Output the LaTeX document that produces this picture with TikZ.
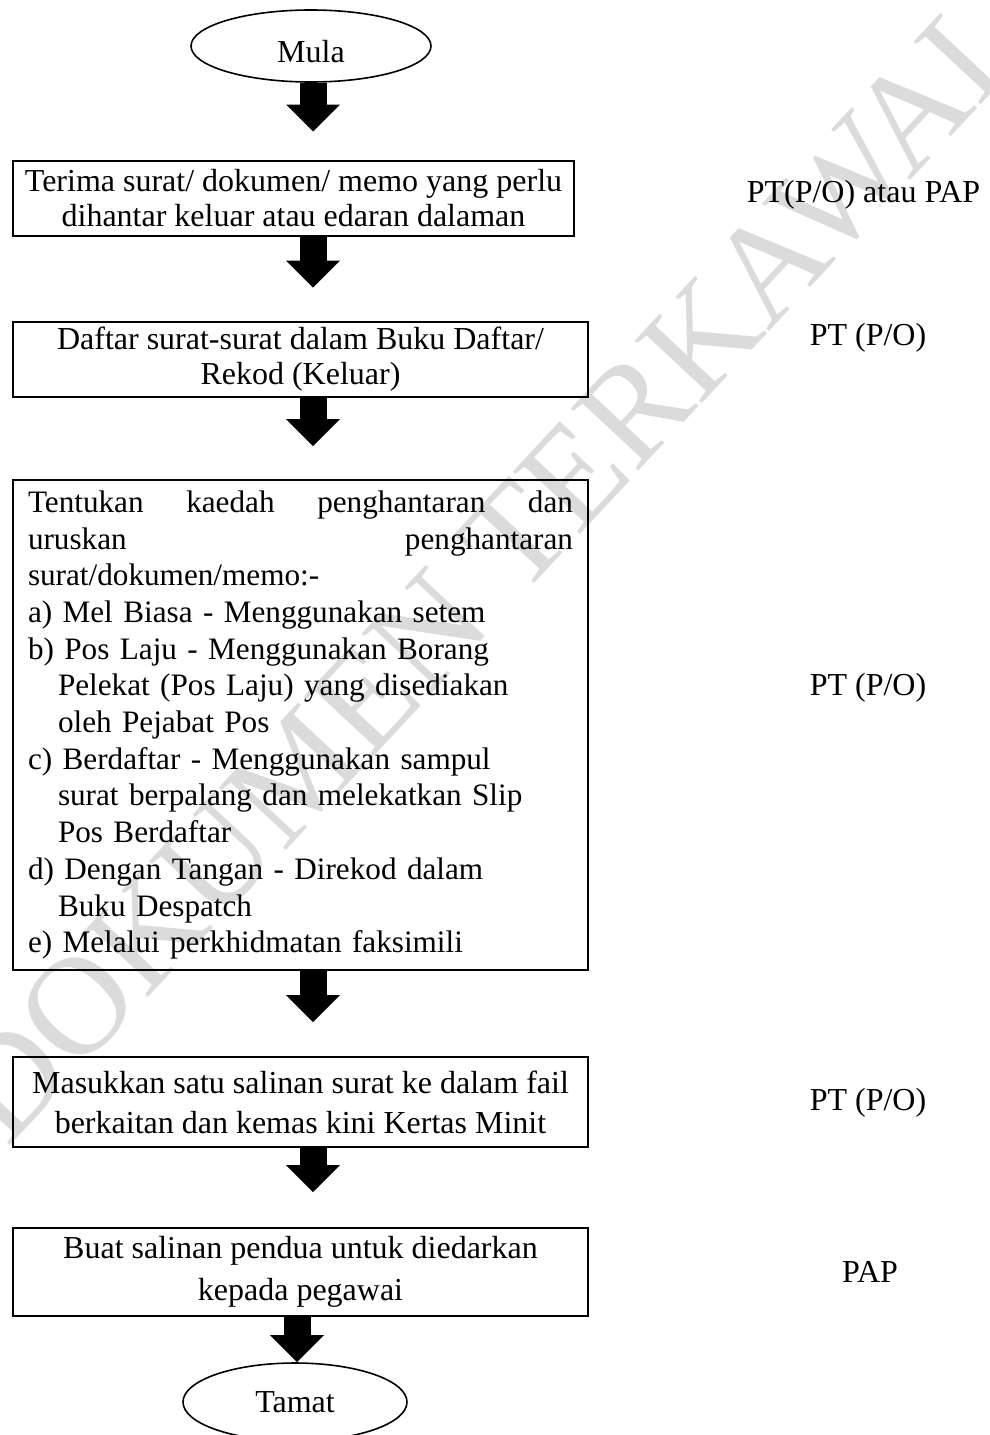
\documentclass[tikz,border=0pt]{standalone}
\usepackage{fontspec}
\setmainfont{Liberation Serif}
\usetikzlibrary{arrows.meta,shapes.geometric}
\definecolor{wmgray}{rgb}{0.86,0.86,0.86}
\begin{document}
\begin{tikzpicture}[x=1pt,y=-1pt,
  box/.style={draw, line width=2pt, inner sep=0pt, align=center},
  oval/.style={draw, ellipse, line width=1.6pt, inner sep=0pt, font=\fontsize{32pt}{36pt}\selectfont},
  side/.style={anchor=base, inner sep=0pt, font=\fontsize{32pt}{36pt}\selectfont},
  blk/.style={line width=27pt, -{Triangle[width=54pt,length=27pt,line width=0pt]}},
]
\useasboundingbox (0,0) rectangle (989,1435);
\begin{scope}
\clip (0,0) rectangle (989,1435);
\node[rotate=47, text=wmgray, font=\fontsize{140pt}{140pt}\selectfont, inner sep=0pt] (wm) at (489,566) {DOKUMEN TERKAWAL};
\end{scope}

\node[oval, minimum width=240pt, minimum height=72pt, text height=32pt, text depth=0pt] (start) at (311,46) {Mula};

\node[box, minimum width=561pt, minimum height=75pt, font=\fontsize{32pt}{34.5pt}\selectfont] (b1) at (293.5,198)
  {Terima surat/ dokumen/ memo yang perlu\\dihantar keluar atau edaran dalaman};

\node[box, minimum width=575pt, minimum height=75pt, font=\fontsize{32pt}{35pt}\selectfont] (b2) at (300.5,359)
  {Daftar surat-surat dalam Buku Daftar/\\Rekod (Keluar)};

\node[box, minimum width=575pt, minimum height=490pt, text width=545pt, align=left, font=\fontsize{31.2pt}{36.7pt}\selectfont] (b3) at (300.5,725)
  {\leavevmode\hbox to 545pt{Tentukan\hfill kaedah\hfill penghantaran\hfill dan}\\
   \leavevmode\hbox to 545pt{uruskan\hfill penghantaran}\\
   surat/dokumen/memo:-\\
   a) Mel Biasa - Menggunakan setem\\
   b) Pos Laju - Menggunakan Borang\\
   \hspace*{30pt}Pelekat (Pos Laju) yang disediakan\\
   \hspace*{30pt}oleh Pejabat Pos\\
   c) Berdaftar - Menggunakan sampul\\
   \hspace*{30pt}surat berpalang dan melekatkan Slip\\
   \hspace*{30pt}Pos Berdaftar\\
   d) Dengan Tangan - Direkod dalam\\
   \hspace*{30pt}Buku Despatch\\
   e) Melalui perkhidmatan faksimili};

\node[box, minimum width=575pt, minimum height=90pt, font=\fontsize{32pt}{40pt}\selectfont] (b4) at (300.5,1102)
  {Masukkan satu salinan surat ke dalam fail\\berkaitan dan kemas kini Kertas Minit};

\node[box, minimum width=575pt, minimum height=88pt, font=\fontsize{32pt}{42pt}\selectfont] (b5) at (300.5,1272)
  {Buat salinan pendua untuk diedarkan\\kepada pegawai};

\node[oval, minimum width=224pt, minimum height=78pt] (end) at (295,1402) {Tamat};

\coordinate (ax) at (313,0);
\coordinate (axb) at (297,0);
\draw[blk, shorten >=28pt] (start.south -| ax) -- (b1.north -| ax);
\draw[blk, shorten >=33pt] (b1.south -| ax) -- (b2.north -| ax);
\draw[blk, shorten >=33pt] (b2.south -| ax) -- (b3.north -| ax);
\draw[blk, shorten >=34pt] (b3.south -| ax) -- (b4.north -| ax);
\draw[blk, shorten >=35pt] (b4.south -| ax) -- (b5.north -| ax);
\draw[blk] (b5.south -| axb) -- (end.north -| axb);

\node[side] (l1) at (863.5,202) {PT(P/O) atau PAP};
\node[side] (l2) at (868,345) {PT (P/O)};
\node[side] (l3) at (868,695) {PT (P/O)};
\node[side] (l4) at (868,1110) {PT (P/O)};
\node[side] (l5) at (870,1282) {PAP};
\end{tikzpicture}
\end{document}
